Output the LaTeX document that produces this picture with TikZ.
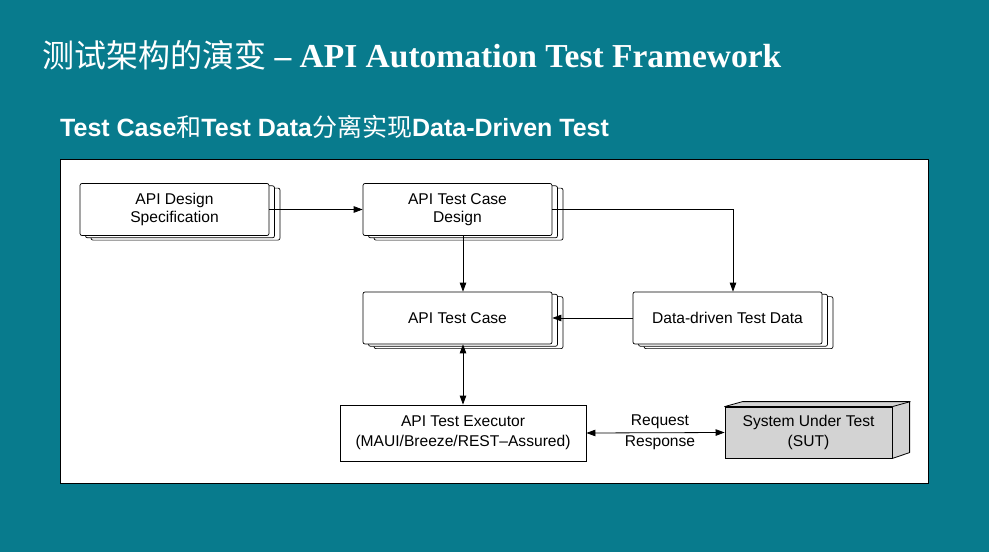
\documentclass[tikz,border=0pt]{standalone}
\usepackage{fontspec}
\setmainfont{Liberation Serif}
\setsansfont{Liberation Sans}
\newfontfamily\cjk{Noto Sans CJK SC}
\usetikzlibrary{arrows.meta,shadows,calc}
\definecolor{slidebg}{RGB}{8,123,141}
\definecolor{sutgray}{RGB}{211,211,211}
\tikzset{
  stackbox/.style={draw=black, fill=white, rounded corners=2pt, line width=0.7pt,
    minimum width=189pt, minimum height=52pt, align=center, inner sep=0pt,
    font=\sffamily\fontsize{15.6}{18.5}\selectfont,
    double copy shadow={shadow xshift=5.5pt, shadow yshift=-2.3pt}},
  plainbox/.style={draw=black, fill=white, line width=0.8pt, align=center, inner sep=0pt,
    font=\sffamily\fontsize{15.6}{20}\selectfont},
  conn/.style={line width=0.8pt, -{Triangle[length=9pt,width=6.5pt]}},
  biconn/.style={line width=0.8pt, {Triangle[length=9pt,width=6.5pt]}-{Triangle[length=9pt,width=6.5pt]}},
  lbl/.style={font=\sffamily\fontsize{15.6}{18}\selectfont, inner sep=0pt}
}
\begin{document}
\begin{tikzpicture}[x=1pt,y=-1pt]
\fill[slidebg] (0,0) rectangle (989,552);
\useasboundingbox (0,0) rectangle (989,552);
% title
\node[anchor=base west, inner sep=0pt, text=white] (title) at (42,67)
  {{\cjk\fontsize{32}{36}\selectfont 测试架构的演变}\fontsize{33.5}{36}\selectfont\bfseries{} – API Automation Test Framework};
\node[anchor=base west, inner sep=0pt, text=white] (subtitle) at (60,136)
  {\sffamily\bfseries\fontsize{25}{28}\selectfont Test Case{\cjk\mdseries 和}Test Data{\cjk\mdseries 分离实现}Data-Driven Test};
% panel
\node[draw=black, fill=white, line width=0.8pt, minimum width=868pt, minimum height=324pt, inner sep=0pt] (panel) at (494,321) {};
% boxes
\node[stackbox] (spec) at (174.5,209.5) {API Design\\Specification};
\node[stackbox] (des) at (457.5,209.5) {API Test Case\\Design};
\node[stackbox] (tc) at (457.5,318) {API Test Case};
\node[stackbox] (dd) at (727.5,318) {Data-driven Test Data};
\node[plainbox, minimum width=246pt, minimum height=56pt] (ex) at (463,433) {API Test Executor\\(MAUI/Breeze/REST–Assured)};
\node[plainbox, fill=sutgray, minimum width=167pt, minimum height=51pt] (sut) at (808.5,432.5) {System Under Test\\(SUT)};
\draw[line width=0.8pt, fill=sutgray, line join=round]
  (sut.north west) -- ++(18,-5) -- ++(167,0) -- ++(0,51) -- (sut.south east) -- (sut.north east) -- cycle;
\draw[line width=0.8pt] (sut.north east) -- ++(18,-5);
% connectors
\draw[conn] (spec.east) -- (des.west);
\draw[conn] (ex.north |- des.south) -- (ex.north |- tc.north);
\draw[conn] (des.east) -| ([xshift=5.5pt]dd.north);
\draw[conn] (dd.west) -- (tc.east);
\draw[biconn] (ex.north |- tc.south) -- (ex.north);
\draw[biconn] (ex.east) -- (sut.west);
\node[lbl] (req) at (660,422) {Request};
\node[lbl] (resp) at (660,443) {Response};
\end{tikzpicture}
\end{document}
